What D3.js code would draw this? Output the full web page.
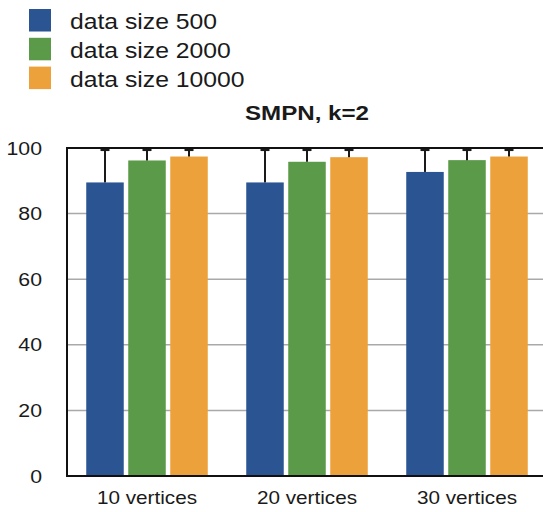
<!DOCTYPE html>
<html><head><meta charset="utf-8">
<script src="https://cdn.jsdelivr.net/npm/d3@7"></script>
<style>body{margin:0;background:#fff}svg{display:block}text{font-family:"Liberation Sans",Arial,sans-serif;fill:#1a1a1a}</style>
</head><body>
<script>
const categories = ["10 vertices", "20 vertices", "30 vertices"];
const seriesNames = ["data size 500", "data size 2000", "data size 10000"];
const values500 = [89.5, 89.5, 92.7];
const values2000 = [96.2, 95.8, 96.3];
const values10000 = [97.4, 97.2, 97.4];
const err500 = [10.1, 10.1, 6.9];
const err2000 = [3.4, 3.8, 3.3];
const err10000 = [2.2, 2.4, 2.2];
const yTicks = [0, 20, 40, 60, 80, 100];
const title = "SMPN, k=2";
const colors = ["#2b5592", "#5b9a48", "#eca13b"];

const W = 543, H = 512;
const M = {left: 67, top: 148, bottom: 476, right: 547};
const SX = 1.15;

const svg = d3.select("body").append("svg").attr("width", W).attr("height", H);

const y = d3.scaleLinear().domain([0, 100]).range([M.bottom, M.top]);
const x0 = d3.scaleBand().domain(categories).range([M.left, M.right]).paddingInner(0).paddingOuter(0);
const x1 = d3.scaleBand().domain(seriesNames).range([0, x0.bandwidth()]).paddingInner(0.107).paddingOuter(0.458);

const allVals = [values500, values2000, values10000];
const allErr = [err500, err2000, err10000];

function stext(g, x, yy, str, anchor, size, weight) {
  return g.append("text")
    .attr("transform", `translate(${x},${yy}) scale(${SX},1)`)
    .attr("text-anchor", anchor)
    .style("font-size", size + "px")
    .style("font-weight", weight || "normal")
    .text(str);
}

// gridlines
svg.append("g").selectAll("line").data(yTicks.filter(t => t > 0 && t < 100)).join("line")
  .attr("x1", M.left).attr("x2", M.right)
  .attr("y1", d => y(d)).attr("y2", d => y(d))
  .attr("stroke", "#a9a9a9").attr("stroke-width", 1.5);

// bars
const groups = svg.append("g").selectAll("g").data(categories).join("g")
  .attr("transform", d => `translate(${x0(d)},0)`);
seriesNames.forEach((s, si) => {
  groups.append("rect")
    .attr("x", x1(s)).attr("width", x1.bandwidth())
    .attr("y", (d, i) => y(allVals[si][i]))
    .attr("height", (d, i) => y(0) - y(allVals[si][i]))
    .attr("fill", colors[si]);
});
// error bars
seriesNames.forEach((s, si) => {
  const cx = x1(s) + x1.bandwidth() / 2;
  groups.append("line")
    .attr("x1", cx).attr("x2", cx)
    .attr("y1", (d, i) => y(allVals[si][i]))
    .attr("y2", (d, i) => y(allVals[si][i] + allErr[si][i]))
    .attr("stroke", "#1a1a1a").attr("stroke-width", 2);
  groups.append("line")
    .attr("x1", cx - 4.5).attr("x2", cx + 4.5)
    .attr("y1", (d, i) => y(allVals[si][i] + allErr[si][i]))
    .attr("y2", (d, i) => y(allVals[si][i] + allErr[si][i]))
    .attr("stroke", "#1a1a1a").attr("stroke-width", 3.5);
});

// frame
svg.append("line").attr("x1", M.left).attr("x2", M.right).attr("y1", M.top).attr("y2", M.top).attr("stroke", "#111").attr("stroke-width", 2);
svg.append("line").attr("x1", M.left).attr("x2", M.right).attr("y1", M.bottom).attr("y2", M.bottom).attr("stroke", "#111").attr("stroke-width", 2);
svg.append("line").attr("x1", M.left).attr("x2", M.left).attr("y1", M.top - 1).attr("y2", M.bottom + 1).attr("stroke", "#111").attr("stroke-width", 2);

// y tick labels
const yl = svg.append("g");
yTicks.forEach(t => stext(yl, 42, y(t) + 6.5, String(t), "end", 18.5));

// x labels
const xl = svg.append("g");
categories.forEach(c => stext(xl, x0(c) + x0.bandwidth() / 2, 504, c, "middle", 18));

// title
stext(svg, 307, 120, title, "middle", 21, "bold");

// legend
const lg = svg.append("g");
seriesNames.forEach((s, i) => {
  lg.append("rect").attr("x", 29).attr("y", 9 + i * 28.8).attr("width", 22).attr("height", 22.5).attr("fill", colors[i]);
  stext(lg, 70, 29, s, "start", 21.5).attr("transform", `translate(70,${29 + i * 28.8}) scale(${SX},1)`);
});
</script>
</body></html>
